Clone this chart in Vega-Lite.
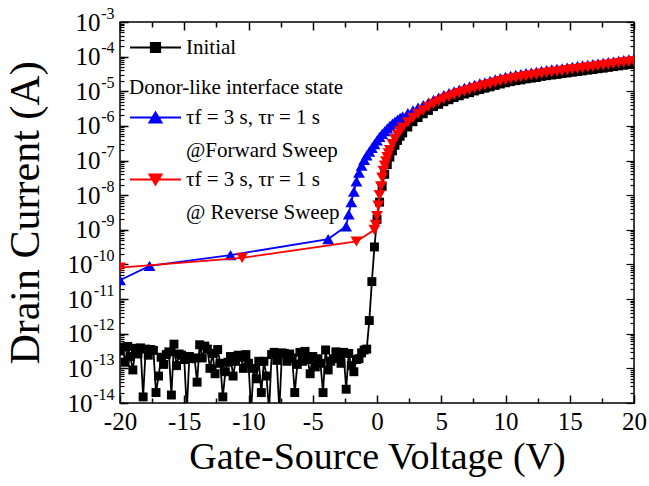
{
  "$schema": "https://vega.github.io/schema/vega-lite/v6.json",
  "width": 514,
  "height": 381,
  "autosize": {"type": "none"},
  "padding": {"left": 120, "top": 22, "right": 15, "bottom": 83},
  "background": "white",
  "datasets": {
    "forward": [
      {"V": -20, "I": 3.5e-11}, {"V": -17.7, "I": 9.1e-11}, {"V": -11.4, "I": 1.86e-10}, {"V": -3.8, "I": 5.4e-10},
      {"V": -2.4, "I": 1.26e-9}, {"V": -2.2, "I": 2.8e-9}, {"V": -2, "I": 6.3e-9}, {"V": -1.8, "I": 1.26e-8},
      {"V": -1.6, "I": 2.5e-8}, {"V": -1.4, "I": 4.5e-8}, {"V": -1.2, "I": 7.1e-8}, {"V": -1, "I": 1.05e-7},
      {"V": -0.8, "I": 1.41e-7}, {"V": -0.6, "I": 1.82e-7}, {"V": -0.4, "I": 2.34e-7}, {"V": -0.2, "I": 3.0e-7},
      {"V": 0, "I": 3.8e-7}, {"V": 0.2, "I": 4.8e-7}, {"V": 0.4, "I": 5.9e-7}, {"V": 0.6, "I": 7.1e-7},
      {"V": 0.8, "I": 8.5e-7}, {"V": 1, "I": 1.0e-6}, {"V": 1.2, "I": 1.17e-6}, {"V": 1.4, "I": 1.33e-6},
      {"V": 1.6, "I": 1.51e-6}, {"V": 1.8, "I": 1.7e-6}, {"V": 2, "I": 1.9e-6}, {"V": 2.4, "I": 2.34e-6},
      {"V": 2.8, "I": 2.8e-6}, {"V": 3.2, "I": 3.4e-6}, {"V": 3.6, "I": 4.0e-6}, {"V": 4, "I": 4.7e-6},
      {"V": 4.4, "I": 5.6e-6}, {"V": 4.8, "I": 6.6e-6}, {"V": 5.2, "I": 7.8e-6}, {"V": 5.6, "I": 8.8e-6},
      {"V": 6, "I": 1.0e-5}, {"V": 6.4, "I": 1.12e-5}, {"V": 6.8, "I": 1.26e-5}, {"V": 7.2, "I": 1.38e-5},
      {"V": 7.6, "I": 1.53e-5}, {"V": 8, "I": 1.68e-5}, {"V": 8.4, "I": 1.82e-5}, {"V": 8.8, "I": 2.0e-5},
      {"V": 9.2, "I": 2.19e-5}, {"V": 9.6, "I": 2.4e-5}, {"V": 10, "I": 2.62e-5}, {"V": 10.4, "I": 2.79e-5},
      {"V": 10.8, "I": 2.99e-5}, {"V": 11.2, "I": 3.13e-5}, {"V": 11.6, "I": 3.35e-5}, {"V": 12, "I": 3.47e-5},
      {"V": 12.4, "I": 3.63e-5}, {"V": 12.8, "I": 3.89e-5}, {"V": 13.2, "I": 4.07e-5}, {"V": 13.6, "I": 4.27e-5},
      {"V": 14, "I": 4.47e-5}, {"V": 14.4, "I": 4.62e-5}, {"V": 14.8, "I": 4.84e-5}, {"V": 15.2, "I": 5.07e-5},
      {"V": 15.6, "I": 5.3e-5}, {"V": 16, "I": 5.56e-5}, {"V": 16.4, "I": 5.82e-5}, {"V": 16.8, "I": 6.03e-5},
      {"V": 17.2, "I": 6.3e-5}, {"V": 17.6, "I": 6.6e-5}, {"V": 18, "I": 6.9e-5}, {"V": 18.4, "I": 7.2e-5},
      {"V": 18.8, "I": 7.6e-5}, {"V": 19.2, "I": 7.9e-5}, {"V": 19.6, "I": 8.3e-5}, {"V": 20, "I": 8.7e-5}
    ],
    "reverse": [
      {"V": -20, "I": 8.1e-11}, {"V": -10.5, "I": 1.55e-10}, {"V": -1.6, "I": 4.6e-10}, {"V": -0.2, "I": 1.0e-9},
      {"V": -0.1, "I": 1.4e-9}, {"V": 0, "I": 2.5e-9}, {"V": 0.1, "I": 5.0e-9}, {"V": 0.2, "I": 1.0e-8},
      {"V": 0.3, "I": 1.8e-8}, {"V": 0.4, "I": 3.2e-8}, {"V": 0.5, "I": 5.0e-8}, {"V": 0.6, "I": 7.1e-8},
      {"V": 0.7, "I": 9.5e-8}, {"V": 0.8, "I": 1.26e-7}, {"V": 0.9, "I": 1.6e-7}, {"V": 1, "I": 2.0e-7},
      {"V": 1.2, "I": 3.0e-7}, {"V": 1.4, "I": 4.2e-7}, {"V": 1.6, "I": 5.6e-7}, {"V": 1.8, "I": 7.2e-7},
      {"V": 2, "I": 8.9e-7}, {"V": 2.4, "I": 1.26e-6}, {"V": 2.8, "I": 1.7e-6}, {"V": 3.2, "I": 2.24e-6},
      {"V": 3.6, "I": 2.8e-6}, {"V": 4, "I": 3.55e-6}, {"V": 4.4, "I": 4.3e-6}, {"V": 4.8, "I": 5.1e-6},
      {"V": 5.2, "I": 6.0e-6}, {"V": 5.6, "I": 6.9e-6}, {"V": 6, "I": 7.9e-6}, {"V": 6.4, "I": 8.9e-6},
      {"V": 6.8, "I": 1.0e-5}, {"V": 7.2, "I": 1.1e-5}, {"V": 7.6, "I": 1.23e-5}, {"V": 8, "I": 1.35e-5},
      {"V": 8.4, "I": 1.48e-5}, {"V": 8.8, "I": 1.62e-5}, {"V": 9.2, "I": 1.78e-5}, {"V": 9.6, "I": 1.95e-5},
      {"V": 10, "I": 2.12e-5}, {"V": 10.4, "I": 2.29e-5}, {"V": 10.8, "I": 2.45e-5}, {"V": 11.2, "I": 2.57e-5},
      {"V": 11.6, "I": 2.75e-5}, {"V": 12, "I": 2.88e-5}, {"V": 12.4, "I": 3.0e-5}, {"V": 12.8, "I": 3.24e-5},
      {"V": 13.2, "I": 3.4e-5}, {"V": 13.6, "I": 3.55e-5}, {"V": 14, "I": 3.7e-5}, {"V": 14.4, "I": 3.9e-5},
      {"V": 14.8, "I": 4.07e-5}, {"V": 15.2, "I": 4.27e-5}, {"V": 15.6, "I": 4.47e-5}, {"V": 16, "I": 4.68e-5},
      {"V": 16.4, "I": 4.9e-5}, {"V": 16.8, "I": 5.1e-5}, {"V": 17.2, "I": 5.4e-5}, {"V": 17.6, "I": 5.6e-5},
      {"V": 18, "I": 5.9e-5}, {"V": 18.4, "I": 6.2e-5}, {"V": 18.8, "I": 6.5e-5}, {"V": 19.2, "I": 6.8e-5},
      {"V": 19.6, "I": 7.1e-5}, {"V": 20, "I": 7.4e-5}
    ],
    "initial": [
      {"V": -20, "I": 3.2e-13}, {"V": -19.8, "I": 4.1e-13}, {"V": -19.6, "I": 1.5e-13}, {"V": -19.4, "I": 4.3e-13},
      {"V": -19.2, "I": 2.2e-13}, {"V": -19, "I": 9e-14}, {"V": -18.8, "I": 3.8e-13}, {"V": -18.6, "I": 2.6e-13},
      {"V": -18.4, "I": 3.9e-13}, {"V": -18.2, "I": 1.5e-14}, {"V": -18, "I": 3.6e-13}, {"V": -17.8, "I": 2.4e-13},
      {"V": -17.6, "I": 3.5e-13}, {"V": -17.4, "I": 3.3e-13}, {"V": -17.2, "I": 2e-14}, {"V": -17, "I": 6e-14},
      {"V": -16.8, "I": 2.1e-13}, {"V": -16.6, "I": 1.3e-13}, {"V": -16.4, "I": 2.5e-13}, {"V": -16.2, "I": 3.0e-13},
      {"V": -16, "I": 1.7e-14}, {"V": -15.8, "I": 5.0e-13}, {"V": -15.6, "I": 1.2e-13}, {"V": -15.4, "I": 2.6e-13},
      {"V": -15.2, "I": 2.4e-13}, {"V": -15, "I": 1.8e-13}, {"V": -14.8, "I": 6e-15}, {"V": -14.6, "I": 2.2e-13},
      {"V": -14.4, "I": 1.9e-13}, {"V": -14.2, "I": 2.0e-13}, {"V": -14, "I": 4e-14}, {"V": -13.8, "I": 4.8e-13},
      {"V": -13.6, "I": 2.0e-13}, {"V": -13.4, "I": 4.4e-13}, {"V": -13.2, "I": 3.6e-13}, {"V": -13, "I": 1.0e-13},
      {"V": -12.8, "I": 2.7e-13}, {"V": -12.6, "I": 7e-14}, {"V": -12.4, "I": 3.5e-13}, {"V": -12.2, "I": 1.4e-13},
      {"V": -12, "I": 1.5e-14}, {"V": -11.8, "I": 8e-14}, {"V": -11.6, "I": 1.5e-13}, {"V": -11.4, "I": 2.2e-13},
      {"V": -11.2, "I": 6e-14}, {"V": -11, "I": 1.6e-13}, {"V": -10.8, "I": 2.4e-13}, {"V": -10.6, "I": 2.1e-13},
      {"V": -10.4, "I": 1.0e-13}, {"V": -10.2, "I": 2.5e-13}, {"V": -10, "I": 1.4e-13}, {"V": -9.8, "I": 6e-15},
      {"V": -9.6, "I": 1.0e-13}, {"V": -9.4, "I": 5e-14}, {"V": -9.2, "I": 1.6e-13}, {"V": -9, "I": 2e-14},
      {"V": -8.8, "I": 1.6e-13}, {"V": -8.6, "I": 6e-14}, {"V": -8.4, "I": 6e-15}, {"V": -8.2, "I": 2.5e-13},
      {"V": -8, "I": 2.9e-13}, {"V": -7.8, "I": 1.7e-13}, {"V": -7.6, "I": 6e-15}, {"V": -7.4, "I": 2.8e-13},
      {"V": -7.2, "I": 2.7e-13}, {"V": -7, "I": 1.6e-13}, {"V": -6.8, "I": 2.6e-13}, {"V": -6.6, "I": 2.0e-13},
      {"V": -6.4, "I": 2e-14}, {"V": -6.2, "I": 1.3e-13}, {"V": -6, "I": 2.9e-13}, {"V": -5.8, "I": 1.6e-13},
      {"V": -5.6, "I": 3.1e-13}, {"V": -5.4, "I": 1.8e-13}, {"V": -5.2, "I": 7e-14}, {"V": -5, "I": 2.2e-13},
      {"V": -4.8, "I": 1.1e-13}, {"V": -4.6, "I": 1.9e-13}, {"V": -4.4, "I": 1.4e-13}, {"V": -4.2, "I": 2e-14},
      {"V": -4, "I": 3.4e-13}, {"V": -3.8, "I": 9e-14}, {"V": -3.6, "I": 1.6e-13}, {"V": -3.4, "I": 1.9e-13},
      {"V": -3.2, "I": 3.0e-13}, {"V": -3, "I": 2.2e-13}, {"V": -2.8, "I": 1.4e-13}, {"V": -2.6, "I": 2.9e-13},
      {"V": -2.4, "I": 2.5e-14}, {"V": -2.2, "I": 2.7e-13}, {"V": -2, "I": 1.2e-13}, {"V": -1.8, "I": 8e-14},
      {"V": -1.6, "I": 1.8e-13}, {"V": -1.4, "I": 1.9e-13}, {"V": -1.2, "I": 2.8e-13}, {"V": -1, "I": 3.4e-13},
      {"V": -0.8, "I": 3.6e-13}, {"V": -0.6, "I": 2.4e-12}, {"V": -0.4, "I": 3.2e-11}, {"V": -0.2, "I": 3.2e-10},
      {"V": 0, "I": 2.0e-9}, {"V": 0.2, "I": 6.3e-9}, {"V": 0.4, "I": 1.8e-8}, {"V": 0.6, "I": 4.0e-8},
      {"V": 0.8, "I": 7.6e-8}, {"V": 1, "I": 1.26e-7}, {"V": 1.2, "I": 1.9e-7}, {"V": 1.4, "I": 2.75e-7},
      {"V": 1.6, "I": 3.8e-7}, {"V": 1.8, "I": 5.0e-7}, {"V": 2, "I": 6.3e-7}, {"V": 2.4, "I": 9.3e-7},
      {"V": 2.8, "I": 1.32e-6}, {"V": 3.2, "I": 1.74e-6}, {"V": 3.6, "I": 2.24e-6}, {"V": 4, "I": 2.8e-6},
      {"V": 4.4, "I": 3.6e-6}, {"V": 4.8, "I": 4.2e-6}, {"V": 5.2, "I": 5.0e-6}, {"V": 5.6, "I": 5.7e-6},
      {"V": 6, "I": 6.6e-6}, {"V": 6.4, "I": 7.4e-6}, {"V": 6.8, "I": 8.3e-6}, {"V": 7.2, "I": 9.1e-6},
      {"V": 7.6, "I": 1.02e-5}, {"V": 8, "I": 1.12e-5}, {"V": 8.4, "I": 1.23e-5}, {"V": 8.8, "I": 1.34e-5},
      {"V": 9.2, "I": 1.48e-5}, {"V": 9.6, "I": 1.62e-5}, {"V": 10, "I": 1.76e-5}, {"V": 10.4, "I": 1.9e-5},
      {"V": 10.8, "I": 2.03e-5}, {"V": 11.2, "I": 2.13e-5}, {"V": 11.6, "I": 2.28e-5}, {"V": 12, "I": 2.39e-5},
      {"V": 12.4, "I": 2.49e-5}, {"V": 12.8, "I": 2.69e-5}, {"V": 13.2, "I": 2.82e-5}, {"V": 13.6, "I": 2.95e-5},
      {"V": 14, "I": 3.07e-5}, {"V": 14.4, "I": 3.24e-5}, {"V": 14.8, "I": 3.38e-5}, {"V": 15.2, "I": 3.54e-5},
      {"V": 15.6, "I": 3.71e-5}, {"V": 16, "I": 3.88e-5}, {"V": 16.4, "I": 4.07e-5}, {"V": 16.8, "I": 4.23e-5},
      {"V": 17.2, "I": 4.48e-5}, {"V": 17.6, "I": 4.65e-5}, {"V": 18, "I": 4.9e-5}, {"V": 18.4, "I": 5.15e-5},
      {"V": 18.8, "I": 5.4e-5}, {"V": 19.2, "I": 5.64e-5}, {"V": 19.6, "I": 5.9e-5}, {"V": 20, "I": 6.14e-5}
    ]
  },
  "layer": [
    {
      "data": {"name": "forward"},
      "mark": {"type": "line", "strokeWidth": 1.8, "clip": true, "point": {"shape": "triangle-up", "size": 140, "filled": true, "clip": true}},
      "encoding": {
        "x": {"field": "V", "type": "quantitative", "scale": {"domain": [-20, 20], "nice": false, "zero": false},
          "axis": {"orient": "bottom", "values": [-20, -15, -10, -5, 0, 5, 10, 15, 20],
            "labelExpr": "'' + datum.value", "ticks": true, "tickSize": 8, "offset": -8, "tickColor": "#000000", "tickWidth": 1.5,
            "labelPadding": 6, "labelFontSize": 25, "title": "Gate-Source Voltage (V)", "titleFontSize": 38, "titlePadding": 4}},
        "y": {"field": "I", "type": "quantitative", "scale": {"type": "log", "domain": [1e-14, 0.001], "nice": false},
          "axis": {"orient": "left", "values": [1e-14, 1e-13, 1e-12, 1e-11, 1e-10, 1e-9, 1e-8, 1e-7, 1e-6, 1e-5, 1e-4, 1e-3],
            "labelExpr": "'10'", "ticks": true, "tickSize": 8, "offset": -8, "tickColor": "#000000", "tickWidth": 1.5,
            "labelPadding": {"condition": {"test": "datum.value < 3e-10", "value": 28}, "value": 20},
            "labelFontSize": 25, "labelAlign": "right", "labelBaseline": "middle",
            "title": "Drain Current (A)", "titleFontSize": 42, "titlePadding": 20}},
        "color": {"datum": "Forward Sweep", "type": "nominal", "scale": {"range": ["#0000ff"]},
          "legend": {"orient": "none", "legendX": 9, "legendY": 55, "title": "Donor-like interface state", "titlePadding": -7,
            "symbolType": "M-1,0H1M0,-0.2L0.235,0.2L-0.235,0.2Z", "symbolFillColor": "#0000ff",
            "labelExpr": "['τf = 3 s, τr = 1 s', '@Forward Sweep']"}}
      }
    },
    {
      "data": {"name": "initial"},
      "mark": {"type": "line", "strokeWidth": 1.8, "clip": true, "point": {"shape": "square", "size": 80, "filled": true, "clip": true}},
      "encoding": {
        "x": {"field": "V", "type": "quantitative", "scale": {"domain": [-20, 20], "nice": false, "zero": false},
          "axis": {"orient": "top", "values": [-20, -17.5, -15, -12.5, -10, -7.5, -5, -2.5, 0, 2.5, 5, 7.5, 10, 12.5, 15, 17.5, 20],
            "labels": false, "title": null, "ticks": true,
            "tickSize": {"condition": {"test": "datum.value % 5 == 0", "value": -8}, "value": -5},
            "tickColor": "#000000", "tickWidth": 1.5}},
        "y": {"field": "I", "type": "quantitative", "scale": {"type": "log", "domain": [1e-14, 0.001], "nice": false},
          "axis": {"orient": "left", "tickCount": 20, "ticks": true, "tickSize": 4, "offset": -4, "tickColor": "#000000", "tickWidth": 1.2, "title": null,
            "labelExpr": "abs(log(datum.value)/LN10 - round(log(datum.value)/LN10)) < 0.01 ? '-' + round(-log(datum.value)/LN10) : ''",
            "labelPadding": 6, "labelAlign": "right", "labelBaseline": "middle", "labelFontSize": 16, "labelOffset": -9}},
        "color": {"datum": "Initial", "type": "nominal", "scale": {"range": ["#000000"]},
          "legend": {"orient": "none", "legendX": 9, "legendY": -1, "title": null,
            "symbolType": "M-1,0H1M-0.18,-0.18H0.18V0.18H-0.18Z", "symbolFillColor": "#000000"}}
      }
    },
    {
      "data": {"name": "reverse"},
      "mark": {"type": "line", "strokeWidth": 1.8, "clip": true, "point": {"shape": "triangle-down", "size": 140, "filled": true, "clip": true}},
      "encoding": {
        "x": {"field": "V", "type": "quantitative", "scale": {"domain": [-20, 20], "nice": false, "zero": false},
          "axis": {"orient": "bottom", "values": [-17.5, -12.5, -7.5, -2.5, 2.5, 7.5, 12.5, 17.5],
            "labels": false, "title": null, "ticks": true, "tickSize": 5, "offset": -5, "tickColor": "#000000", "tickWidth": 1.5}},
        "y": {"field": "I", "type": "quantitative", "scale": {"type": "log", "domain": [1e-14, 0.001], "nice": false},
          "axis": {"orient": "right", "tickCount": 20, "labels": false, "title": null, "ticks": true,
            "tickSize": {"condition": {"test": "abs(log(datum.value)/LN10 - round(log(datum.value)/LN10)) < 0.01", "value": -8}, "value": -4},
            "tickColor": "#000000", "tickWidth": 1.2}},
        "color": {"datum": "Reverse Sweep", "type": "nominal", "scale": {"range": ["#ff0000"]},
          "legend": {"orient": "none", "legendX": 9, "legendY": 131, "title": null,
            "symbolType": "M-1,0H1M0,0.2L0.235,-0.2L-0.235,-0.2Z", "symbolFillColor": "#ff0000",
            "labelExpr": "['τf = 3 s, τr = 1 s', '@ Reverse Sweep']"}}
      }
    }
  ],
  "resolve": {"scale": {"color": "independent"}, "axis": {"x": "independent", "y": "independent"}},
  "config": {
    "font": "Liberation Serif",
    "view": {"stroke": "black", "strokeWidth": 1.5},
    "axis": {"domain": false, "grid": false, "zindex": 1,
      "labelColor": "black", "titleColor": "black",
      "labelFont": "Liberation Serif", "titleFont": "Liberation Serif", "titleFontWeight": "normal",
      "labelFlush": false, "labelOverlap": false, "labelBound": false},
    "legend": {"padding": 0, "labelFont": "Liberation Serif", "labelFontSize": 21, "labelColor": "black",
      "titleFont": "Liberation Serif", "titleFontSize": 21, "titleFontWeight": "normal", "titleColor": "black", "titlePadding": 4,
      "symbolSize": 2601, "symbolStrokeWidth": 2, "labelOffset": 4, "labelLimit": 600, "titleLimit": 600},
    "style": {"guide-label": {"lineHeight": 33}}
  }
}
